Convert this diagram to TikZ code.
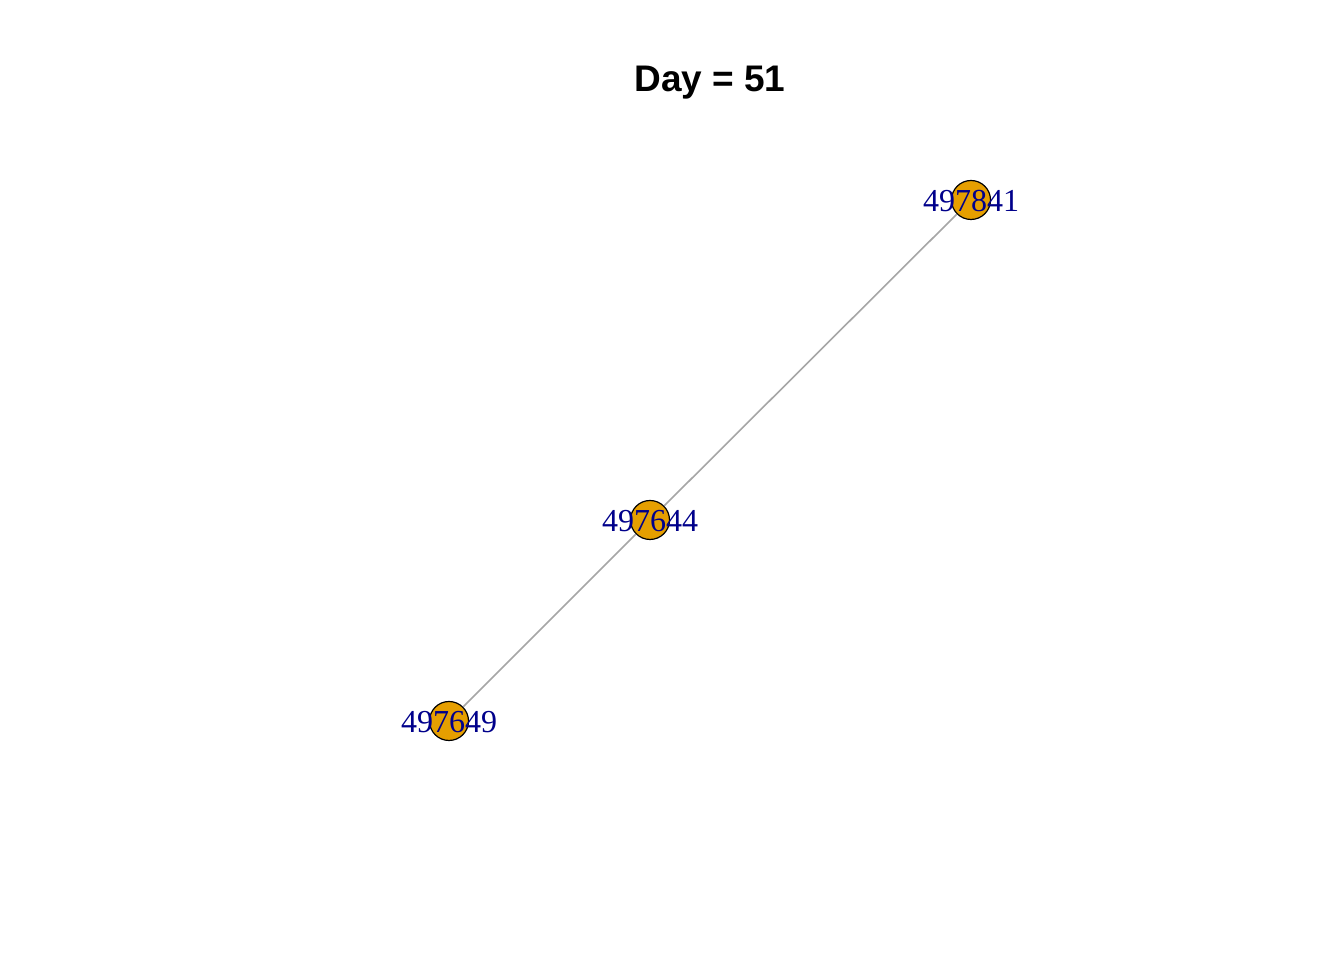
\documentclass[tikz,border=0pt]{standalone}
\usepackage{fontspec}
\setmainfont{Liberation Serif}
\setsansfont{Liberation Sans}
\definecolor{nodefill}{HTML}{E69F00}
\definecolor{labelblue}{HTML}{00008B}
\definecolor{edgegray}{HTML}{A6A6A6}
\tikzset{
  vertex/.style={circle,draw=black,line width=1.2pt,fill=nodefill,minimum size=39pt,inner sep=0pt},
  vlabel/.style={text=labelblue,font=\fontsize{32}{32}\selectfont,inner sep=0pt},
  edge/.style={draw=edgegray,line width=1.6pt},
  title/.style={font=\sffamily\bfseries\fontsize{37}{37}\selectfont,inner sep=0pt}
}
\begin{document}
\begin{tikzpicture}[x=1pt,y=1pt]
\useasboundingbox[fill=white] (0,0) rectangle (1344,960);
\node[title] (t) at (710,877) {Day = 51};
\node[vertex] (a) at (971,760) {};
\node[vertex] (b) at (650,440) {};
\node[vertex] (c) at (449,239) {};
\draw[edge] (a) -- (b);
\draw[edge] (b) -- (c);
\node[vlabel] (la) at ([yshift=-1pt]a.center) {497841};
\node[vlabel] (lb) at ([yshift=-1pt]b.center) {497644};
\node[vlabel] (lc) at ([yshift=-1pt]c.center) {497649};
\end{tikzpicture}
\end{document}
